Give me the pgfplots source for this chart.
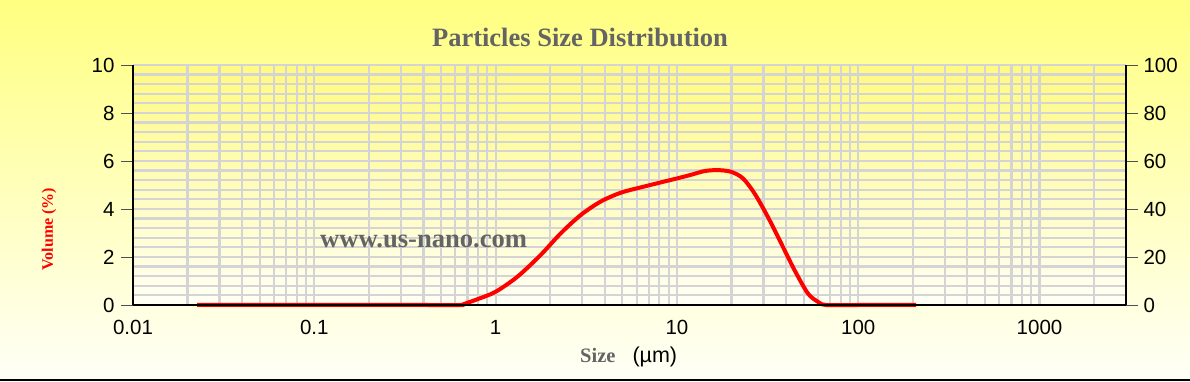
\documentclass[border=0pt]{standalone}
\usepackage{pgfplots}
\pgfplotsset{compat=1.18}
\usepackage{fontspec}
\setmainfont{Liberation Sans}
\newfontfamily\serif{Liberation Serif}
\definecolor{bgtop}{HTML}{FFFF80}
\definecolor{bgbot}{HTML}{FFFFF8}
\definecolor{pltop}{HTML}{FFFA80}
\definecolor{plbot}{HTML}{FFFFF6}
\definecolor{gridgray}{HTML}{D4D4D4}
\definecolor{titlegray}{HTML}{646464}
\definecolor{tickgray}{HTML}{505050}
\begin{document}
\begin{tikzpicture}[x=1pt,y=1pt]
\shade[top color=bgtop,bottom color=bgbot] (0,0) rectangle (1190,382);
\fill[black] (0,0.5) rectangle (1190,2.5);
\begin{axis}[
  at={(133pt,77pt)}, anchor=south west,
  scale only axis, width=993pt, height=240pt,
  xmode=log, xmin=0.01, xmax=3000, ymin=0, ymax=10,
  axis x line*=bottom, axis y line*=left,
  axis line style={-, black, line width=2.4pt},
  axis background/.style={top color=pltop, bottom color=plbot},
  xtick={0.01,0.1,1,10,100,1000},
  xticklabels={0.01,0.1,1,10,100,1000},
  minor xtick={0.02,0.03,0.04,0.05,0.06,0.07,0.08,0.09,0.2,0.3,0.4,0.5,0.6,0.7,0.8,0.9,2,3,4,5,6,7,8,9,20,30,40,50,60,70,80,90,200,300,400,500,600,700,800,900,2000,3000},
  ytick={0,2,4,6,8,10},
  minor y tick num=4,
  grid=both,
  grid style={draw=gridgray, line width=2.2pt},
  major grid style={draw=gridgray, line width=2.2pt},
  tick align=outside,
  major tick length=12pt, minor tick length=0pt,
  ytick style={draw=tickgray, line width=0.9pt},
  xtick style={draw=none},
  tick label style={font=\fontsize{20.5}{24}\selectfont, /pgf/number format/assume math mode=true},
  yticklabel style={xshift=-3pt},
  xticklabel style={yshift=0pt},
  clip=false,
]
\addplot[red, line width=4pt, smooth, tension=0.5] coordinates {
(0.0226,0) (0.1,0) (0.4,0) (0.64,0) (0.668,0.04) (0.8,0.25) (1.0,0.55) (1.32,1.18) (1.77,2.08) (2.29,2.99) (2.95,3.75) (3.80,4.31) (4.91,4.68) (6.32,4.90) (8.16,5.11) (10.1,5.28) (11.9,5.42) (14.2,5.58) (16.8,5.62) (19.9,5.55) (23.1,5.28) (26.8,4.65) (31.7,3.68) (37.6,2.57) (44.5,1.46) (52.7,0.49) (59.8,0.14) (66.5,0) (100,0) (209,0)
};
\end{axis}
\begin{axis}[
  at={(133pt,77pt)}, anchor=south west,
  scale only axis, width=993pt, height=240pt,
  xmode=log, xmin=0.01, xmax=3000, ymin=0, ymax=100,
  axis x line*=bottom, axis y line*=right,
  axis line style={-, black, line width=2.4pt},
  xtick=\empty,
  ytick={0,20,40,60,80,100},
  tick align=outside,
  major tick length=12pt,
  ytick style={draw=tickgray, line width=0.9pt},
  tick label style={font=\fontsize{20.5}{24}\selectfont, /pgf/number format/assume math mode=true},
  yticklabel style={xshift=2pt},
]
\addplot[draw=none] coordinates {(1,0)};
\end{axis}
\node[font=\serif\bfseries\fontsize{26.5}{30}\selectfont, text=titlegray, anchor=base] at (580,335) {Particles Size Distribution};
\node[font=\serif\bfseries\fontsize{26.6}{30}\selectfont, text=titlegray, anchor=base west, inner sep=0pt] at (320,134) {www.us-nano.com};
\node[font=\serif\bfseries\fontsize{16}{18}\selectfont, text=red, rotate=90, anchor=center] at (49,153) {Volume (\%)};
\node[anchor=base west, inner sep=0pt] at (580,19) {{\serif\bfseries\fontsize{20.5}{22}\selectfont\color{titlegray}Size}\hspace{17pt}{\fontsize{21.5}{24}\selectfont (µm)}};
\pgfresetboundingbox
\useasboundingbox (0,0) rectangle (1190,382);
\end{tikzpicture}
\end{document}
